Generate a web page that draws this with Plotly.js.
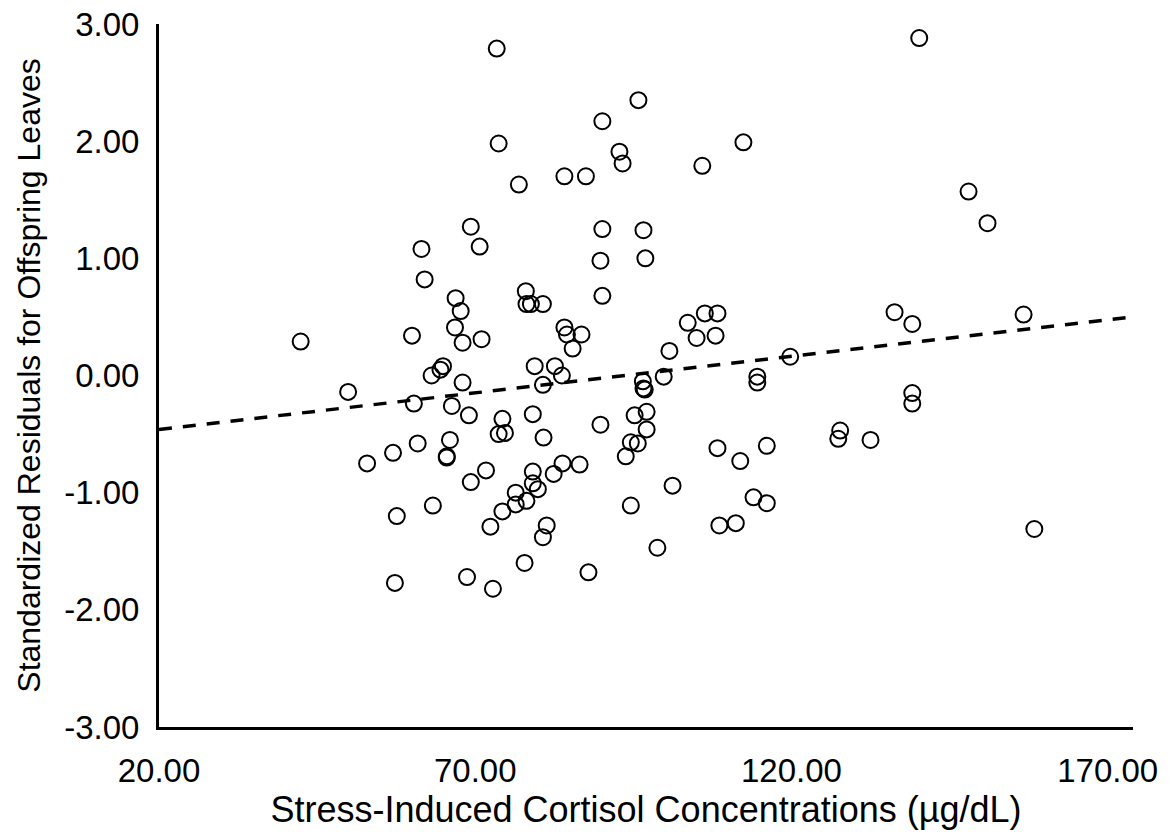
<!DOCTYPE html>
<html>
<head>
<meta charset="utf-8">
<script src="https://cdn.plot.ly/plotly-3.0.1.min.js"></script>
<style>
  html, body { margin: 0; padding: 0; background: #ffffff; }
  #chart { width: 1170px; height: 836px; }
</style>
</head>
<body>
<div id="chart"></div>
<script>
// Stress-induced cortisol concentrations (µg/dL)
var cortisol = [
  73.4, 140.2, 73.7, 76.9, 84.1, 87.5, 90.1, 95.8, 92.8, 93.3,
  105.9, 112.4, 148.0, 151.0, 69.3, 70.7, 61.5, 62.0, 90.1, 96.6,
  89.8, 96.9, 90.1, 66.9, 67.7, 66.8, 60.0, 68.0, 71.0, 42.4,
  78.0, 78.1, 78.8, 80.7, 84.1, 84.5, 86.8, 85.4, 100.7, 103.6,
  106.3, 108.3, 105.0, 108.0, 119.8, 136.3, 139.1, 156.7,
  64.9, 64.5, 63.1, 68.0, 49.9, 79.4, 82.6, 83.7, 80.7, 96.5,
  96.6, 96.8, 99.8, 114.6, 114.6, 139.1, 139.1,
  60.3, 66.3, 69.0, 74.3, 73.7, 74.7, 79.1, 80.8, 66.0, 65.5,
  65.5, 60.9, 57.0, 52.9, 71.7, 69.3, 79.1, 79.1, 79.9, 76.4,
  78.1, 76.4, 74.3, 63.3, 57.6, 72.4, 81.3, 80.7, 77.8, 68.7,
  72.8, 57.3, 83.8, 86.5, 82.4, 89.8, 95.2, 97.1, 97.1, 94.6,
  95.7, 93.8, 101.2, 94.6, 98.8, 87.9, 108.3, 111.9, 116.1, 114.0,
  116.1, 108.6, 111.2, 127.7, 127.4, 132.5, 158.4
];
// Standardized residuals for offspring leaves
var residuals = [
  2.79, 2.88, 1.98, 1.63, 1.70, 1.70, 2.17, 2.35, 1.91, 1.81,
  1.79, 1.99, 1.57, 1.30, 1.27, 1.10, 1.08, 0.82, 1.25, 1.24,
  0.98, 1.00, 0.68, 0.66, 0.55, 0.41, 0.34, 0.28, 0.31, 0.29,
  0.72, 0.61, 0.61, 0.61, 0.41, 0.35, 0.35, 0.23, 0.21, 0.45,
  0.53, 0.53, 0.32, 0.34, 0.16, 0.54, 0.44, 0.52,
  0.08, 0.05, 0.00, -0.06, -0.14, 0.08, 0.08, 0.00, -0.08, -0.05,
  -0.11, -0.12, -0.01, -0.01, -0.06, -0.15, -0.24,
  -0.24, -0.26, -0.34, -0.37, -0.50, -0.49, -0.33, -0.53, -0.55, -0.69,
  -0.70, -0.58, -0.66, -0.75, -0.81, -0.91, -0.82, -0.92, -0.97, -1.00,
  -1.07, -1.10, -1.16, -1.11, -1.20, -1.29, -1.28, -1.38, -1.60, -1.72,
  -1.82, -1.77, -0.75, -0.76, -0.84, -0.42, -0.34, -0.31, -0.46, -0.57,
  -0.58, -0.69, -0.94, -1.11, -1.47, -1.68, -0.62, -0.73, -0.60, -1.04,
  -1.09, -1.28, -1.26, -0.47, -0.54, -0.55, -1.31
];
// Linear trend line endpoints
var trendX = [20, 174];
var trendY = [-0.46, 0.50];

// Axis ticks
var xTicks = [20, 70, 120, 170];
var xTickLabels = ["20.00", "70.00", "120.00", "170.00"];
var yTicks = [-3, -2, -1, 0, 1, 2, 3];
var yTickLabels = ["-3.00", "-2.00", "-1.00", "0.00", "1.00", "2.00", "3.00"];

var fontFam = "Liberation Sans, Arial, sans-serif";

var traces = [
  {
    x: trendX, y: trendY,
    type: "scatter", mode: "lines",
    line: { color: "#000000", width: 3.5, dash: "13px,11px" },
    hoverinfo: "skip", showlegend: false
  },
  {
    x: cortisol, y: residuals,
    type: "scatter", mode: "markers",
    marker: {
      symbol: "circle", size: 16,
      color: "rgba(0,0,0,0)",
      line: { color: "#000000", width: 2 }
    },
    showlegend: false
  }
];

var layout = {
  width: 1170, height: 836,
  margin: { l: 159, r: 37, t: 24, b: 109 },
  paper_bgcolor: "#ffffff", plot_bgcolor: "#ffffff",
  font: { family: fontFam, color: "#000000", size: 30 },
  showlegend: false,
  xaxis: {
    range: [20, 174],
    tickmode: "array", tickvals: xTicks, ticktext: xTickLabels,
    showgrid: false, zeroline: false,
    showline: true, linecolor: "#000000", linewidth: 3,
    ticks: "", ticklen: 0, ticklabelstandoff: 12,
    tickfont: { family: fontFam, size: 33, color: "#000000" },
    title: { text: "Stress-Induced Cortisol Concentrations (µg/dL)", font: { family: fontFam, size: 36, color: "#000000" }, standoff: 3 }
  },
  yaxis: {
    range: [-3, 3],
    tickmode: "array", tickvals: yTicks, ticktext: yTickLabels,
    showgrid: false, zeroline: false,
    showline: true, linecolor: "#000000", linewidth: 3,
    ticks: "", ticklen: 0, ticklabelstandoff: 10,
    tickfont: { family: fontFam, size: 33, color: "#000000" },
    title: { text: "Standardized Residuals for Offspring Leaves", font: { family: fontFam, size: 32, color: "#000000" }, standoff: 14 }
  }
};

Plotly.newPlot("chart", traces, layout, { staticPlot: true, displayModeBar: false });
</script>
</body>
</html>
